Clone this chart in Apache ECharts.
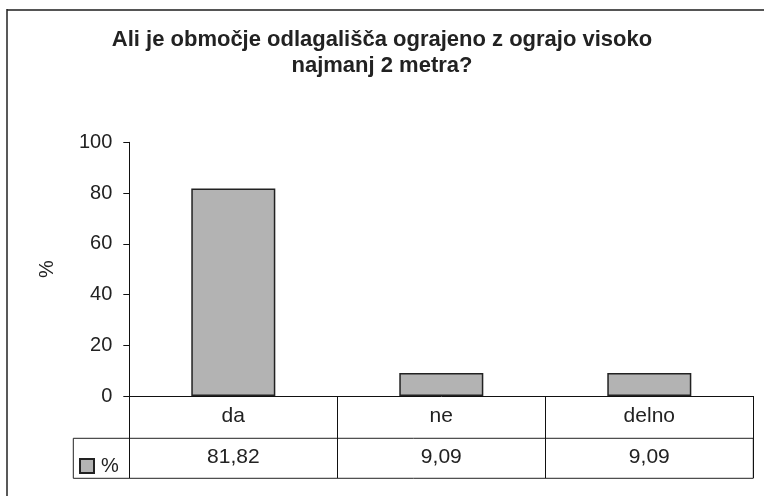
<!DOCTYPE html>
<html>
<head>
<meta charset="utf-8">
<script src="https://cdn.jsdelivr.net/npm/echarts@6/dist/echarts.min.js"></script>
<style>
html,body{margin:0;padding:0;background:#fff;}
#c{width:764px;height:496px;}
</style>
</head>
<body>
<div id="c"></div>
<script>
const titleText = 'Ali je območje odlagališča ograjeno z ograjo visoko\nnajmanj 2 metra?';
const categories = ['da', 'ne', 'delno'];
const seriesName = '%';
const values = [81.82, 9.09, 9.09];
const yTicks = [0, 20, 40, 60, 80, 100];

const FONT = '"Liberation Sans", Arial, sans-serif';
const chart = echarts.init(document.getElementById('c'), null, {renderer: 'canvas'});

function fmt(v) { return v.toFixed(2).replace('.', ','); }

chart.setOption({
  animation: false,
  backgroundColor: '#fff',
  title: {
    text: titleText,
    left: 'center',
    top: 27,
    padding: 0,
    textStyle: {fontFamily: FONT, fontSize: 22, fontWeight: 'bold', color: '#222', lineHeight: 26}
  },
  legend: {
    data: [seriesName],
    left: 79,
    top: 456,
    padding: 0,
    itemWidth: 14,
    itemHeight: 14,
    itemGap: 6,
    icon: 'rect',
    textStyle: {fontFamily: FONT, fontSize: 20, color: '#222', padding: [0, 0, 0, 2]}
  },
  graphic: [
    {type: 'line', shape: {x1: 7, y1: 10, x2: 764, y2: 10}, style: {stroke: '#555', lineWidth: 2}, silent: true},
    {type: 'line', shape: {x1: 7, y1: 9, x2: 7, y2: 496}, style: {stroke: '#222', lineWidth: 1.5}, silent: true}
  ],
  grid: [
    {left: 129.3, right: 10.7, top: 142.3, bottom: 100, containLabel: false},
    {left: 73.3, right: 10.7, top: 438.3, height: 40, show: true, borderColor: '#222', borderWidth: 1, backgroundColor: 'transparent'}
  ],
  xAxis: [
    {
      type: 'category',
      gridIndex: 0,
      data: categories,
      boundaryGap: true,
      axisLine: {show: true, lineStyle: {color: '#111', width: 1}},
      axisTick: {show: true, inside: false, length: 82, interval: 0, lineStyle: {color: '#111', width: 1}},
      axisLabel: {
        interval: 0,
        margin: 0,
        formatter: function (v, i) { return '{a|' + v + '}\n{b|' + fmt(values[i]) + '}'; },
        rich: {
          a: {fontFamily: FONT, fontSize: 21, color: '#222', lineHeight: 41, height: 41, verticalAlign: 'middle'},
          b: {fontFamily: FONT, fontSize: 21, color: '#222', lineHeight: 41, height: 41, verticalAlign: 'middle'}
        }
      },
      splitLine: {show: false}
    },
    {type: 'category', gridIndex: 1, data: categories, show: false}
  ],
  yAxis: [
    {
      type: 'value',
      gridIndex: 0,
      min: yTicks[0],
      max: yTicks[yTicks.length - 1],
      interval: 20,
      name: '%',
      nameLocation: 'middle',
      nameRotate: 90,
      nameGap: 72,
      nameTextStyle: {fontFamily: FONT, fontSize: 20, color: '#222'},
      axisLine: {show: true, lineStyle: {color: '#111', width: 1}},
      axisTick: {show: true, length: 6, lineStyle: {color: '#111', width: 1}},
      axisLabel: {margin: 17, fontFamily: FONT, fontSize: 20, color: '#222'},
      splitLine: {show: false}
    },
    {type: 'value', gridIndex: 1, show: false}
  ],
  series: [
    {
      name: seriesName,
      type: 'bar',
      xAxisIndex: 0,
      yAxisIndex: 0,
      data: values,
      barWidth: '40.4%',
      itemStyle: {color: '#b3b3b3', borderColor: '#222', borderWidth: 1.5}
    }
  ]
});
</script>
</body>
</html>
